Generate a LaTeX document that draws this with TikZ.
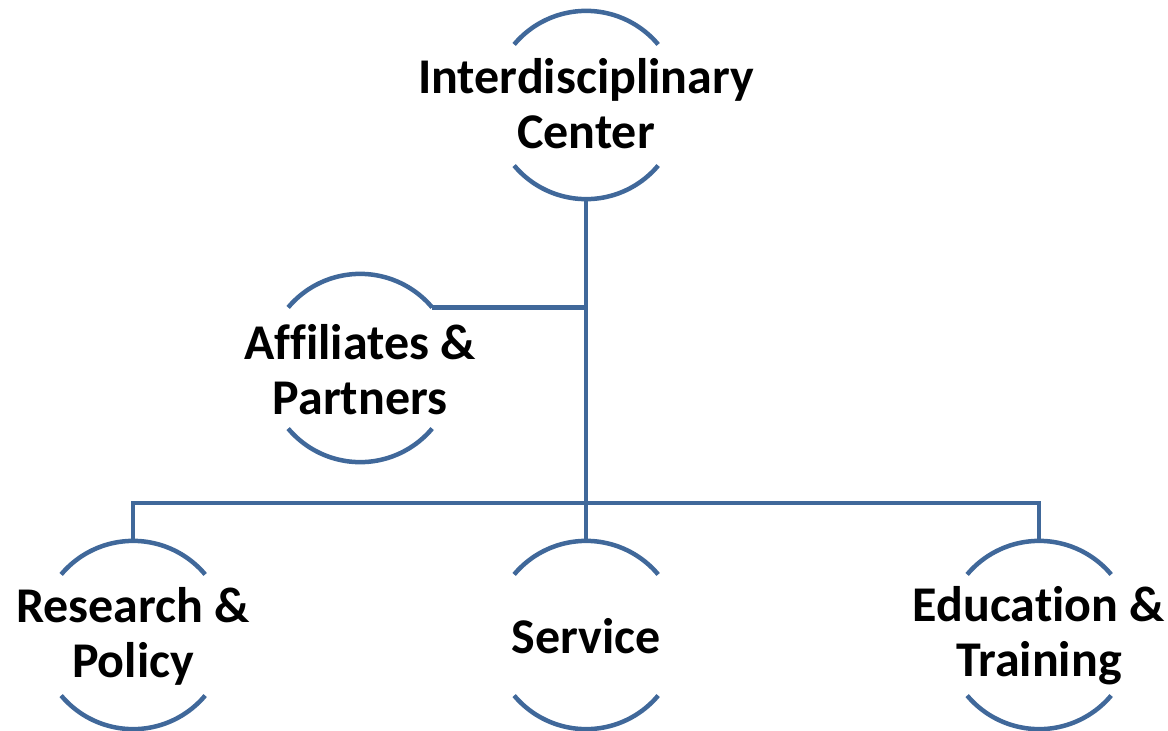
\documentclass[tikz,border=0pt]{standalone}
\usepackage{fontspec}
\setmainfont{Carlito}[Ligatures={NoCommon}]
\definecolor{lineblue}{RGB}{64,104,154}
\begin{document}
\begin{tikzpicture}[x=1pt,y=-1pt,
  ring/.style={circle,draw=none,minimum size=188pt,inner sep=0pt},
  lbl/.style={align=center,font=\fontsize{50}{55}\selectfont\bfseries,inner sep=0pt,text=black},
  conn/.style={draw=lineblue,line width=4.5pt}]
\useasboundingbox (0,0) rectangle (1168,731);
% circles (invisible nodes)
\node[ring] (cen) at (586,105) {};
\node[ring] (aff) at (360,368) {};
\node[ring] (res) at (133,635) {};
\node[ring] (ser) at (586,635) {};
\node[ring] (edu) at (1039,635) {};
% arcs
\foreach \n in {cen,aff,res,ser,edu}{
  \draw[conn] (\n.40) arc[start angle=40,end angle=140,radius=94pt];
  \draw[conn] (\n.-40) arc[start angle=-40,end angle=-140,radius=94pt];
}
% connectors
\coordinate (bus) at (586,503);
\draw[conn] (cen.south) -- (ser.north);
\draw[conn] (aff.40) -- (aff.40 -| cen.south);
\draw[conn,line join=miter] (res.north) -- (res.north |- bus) -- (edu.north |- bus) -- (edu.north);
% labels
\node[lbl] (tcen) at (586,104) {Interdisciplinary\\Center};
\node[lbl] (taff) at (360,370) {Affiliates \&\\Partners};
\node[lbl] (tres) at (133,636) {Research \&\\Policy};
\node[lbl] (tser) at (586,636) {Service};
\node[lbl] (tedu) at (1039,636) {Education \&\\Training};
\end{tikzpicture}
\end{document}
